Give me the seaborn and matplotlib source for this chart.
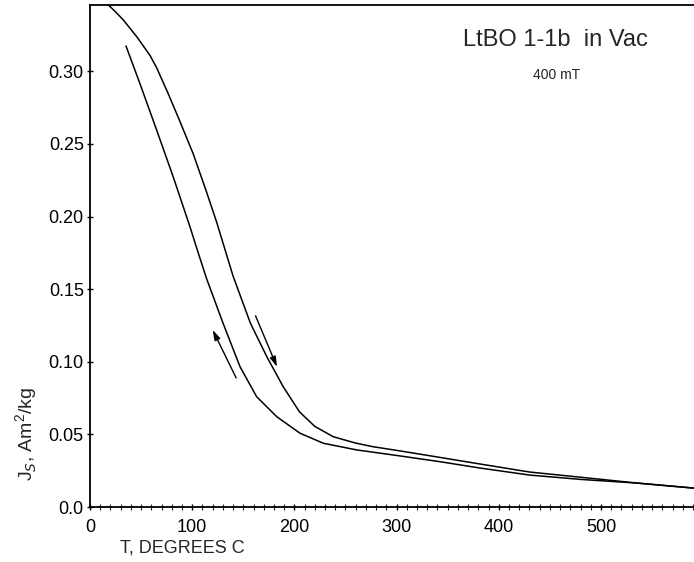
import matplotlib as mpl
import matplotlib.pyplot as plt
import seaborn as sns
import pandas as pd
import numpy as np

# heating curve (upper branch)
heat_T = [18, 25, 32.6, 45.7, 58.7, 65.2, 76.6, 88, 101, 114, 124, 140, 157, 173, 189, 205,
          220, 238, 260, 277, 300, 342, 380, 430, 480, 535, 591]
heat_J = [0.3457, 0.341, 0.3354, 0.3239, 0.311, 0.3025, 0.2845, 0.2655, 0.2432, 0.217, 0.196,
          0.159, 0.1265, 0.1035, 0.0829, 0.0655, 0.0555, 0.0484, 0.0440, 0.0415, 0.0390,
          0.0342, 0.0298, 0.0241, 0.0205, 0.0165, 0.013]

# cooling curve (lower branch)
cool_T = [35.2, 48.9, 65.2, 81.5, 97.8, 106, 114.2, 130.5, 146.8, 163, 182.7, 205.5, 228.3,
          261, 300, 342.5, 380, 430, 480, 535, 591]
cool_J = [0.3175, 0.2915, 0.2596, 0.2272, 0.193, 0.1748, 0.157, 0.126, 0.0966, 0.076, 0.0622,
          0.0508, 0.0439, 0.0393, 0.0355, 0.0312, 0.027, 0.022, 0.019, 0.0165, 0.013]

# direction arrows: (start T, start J, end T, end J)
heat_arrow = [162, 0.1316, 183, 0.0965]
cool_arrow = [143, 0.0889, 120, 0.122]

x_ticks = [0, 100, 200, 300, 400, 500]
y_ticks = [0.0, 0.05, 0.10, 0.15, 0.20, 0.25, 0.30]
y_labels = ['0.0', '0.05', '0.10', '0.15', '0.20', '0.25', '0.30']

sns.set_style('ticks')
mpl.rcParams['font.family'] = ['Liberation Sans', 'DejaVu Sans']
mpl.rcParams['mathtext.fontset'] = 'custom'
mpl.rcParams['mathtext.rm'] = 'Liberation Sans'

df = pd.concat([
    pd.DataFrame({'T': heat_T, 'J': heat_J, 'run': 'heat'}),
    pd.DataFrame({'T': cool_T, 'J': cool_J, 'run': 'cool'}),
])

fig = plt.figure(figsize=(6.94, 5.62), dpi=100)
ax = fig.add_axes([90 / 694, 55 / 562, 604 / 694, 502 / 562])

sns.lineplot(data=df, x='T', y='J', units='run', estimator=None, sort=False,
             color='black', linewidth=1.1, ax=ax, legend=False)

for a in [heat_arrow, cool_arrow]:
    ax.annotate('', xy=(a[2], a[3]), xytext=(a[0], a[1]),
                arrowprops=dict(arrowstyle='-|>,head_length=0.6,head_width=0.18',
                                color='black', lw=1.0, shrinkA=0, shrinkB=0))

ax.set_xlim(0, 591)
ax.set_ylim(0, 0.3457)
ax.set_xticks(x_ticks)
ax.set_xticks(np.arange(0, 591, 10), minor=True)
ax.set_yticks(y_ticks)
ax.set_yticklabels(y_labels)
ax.tick_params(axis='both', which='major', direction='inout', length=5, width=1,
               labelsize=13, color='black', labelcolor='black')
ax.tick_params(axis='x', which='minor', direction='inout', length=4, width=0.8)
ax.tick_params(axis='x', pad=6)
ax.tick_params(axis='y', pad=2)

for side in ['left', 'bottom', 'top']:
    ax.spines[side].set_color('black')
    ax.spines[side].set_linewidth(1.3)
ax.spines['right'].set_visible(False)

ax.set_xlabel('')
ax.set_ylabel('')
fig.text(120 / 694, 1 - 548 / 562, 'T, DEGREES C', fontsize=13, ha='left', va='center')
fig.text(27 / 694, 1 - 434 / 562, 'J$_S$, Am$^2$/kg', fontsize=14, rotation=90,
         ha='center', va='center')

ax.text(455, 0.3216, 'LtBO 1-1b  in Vac', fontsize=17, ha='center', va='center')
ax.text(457, 0.2975, '400 mT', fontsize=10, ha='center', va='center')

plt.savefig('out.png', dpi=100)
